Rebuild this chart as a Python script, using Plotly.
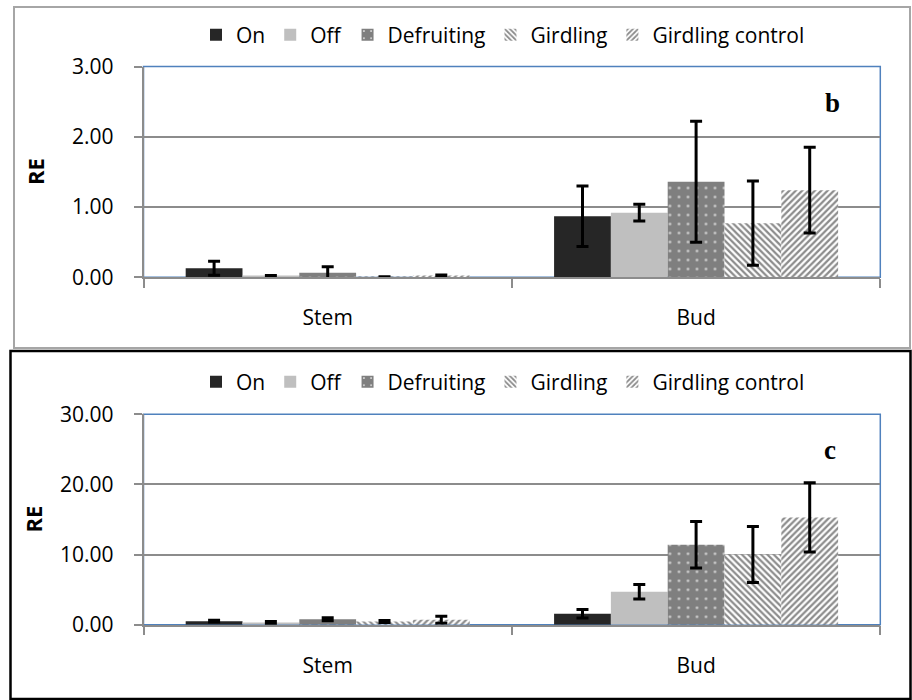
import plotly.graph_objects as go

# Tissues on the category axis
tissues = ["Stem", "Bud"]
treatments = ["On", "Off", "Defruiting", "Girdling", "Girdling control"]

# Panel b: relative expression (RE) and error values per treatment
b_on = [0.13, 0.87]
b_on_err = [0.10, 0.43]
b_off = [0.02, 0.92]
b_off_err = [0.005, 0.12]
b_defruiting = [0.065, 1.36]
b_defruiting_err = [0.085, 0.86]
b_girdling = [0.004, 0.77]
b_girdling_err = [0.003, 0.60]
b_girdling_ctrl = [0.015, 1.24]
b_girdling_ctrl_err = [0.017, 0.61]

# Panel c: relative expression (RE) and error values per treatment
c_on = [0.50, 1.57]
c_on_err = [0.12, 0.60]
c_off = [0.30, 4.70]
c_off_err = [0.15, 1.02]
c_defruiting = [0.78, 11.40]
c_defruiting_err = [0.20, 3.30]
c_girdling = [0.45, 10.00]
c_girdling_err = [0.15, 4.00]
c_girdling_ctrl = [0.70, 15.30]
c_girdling_ctrl_err = [0.50, 4.95]

W, H = 912, 700
FONT = "Open Sans"
GRID = "#8c8c8c"
BLUE = "#4f81bd"

# fill styles per treatment
styles = {
    "On": dict(color="#262626"),
    "Off": dict(color="#bfbfbf"),
    "Defruiting": dict(color="#7f7f7f",
                       pattern=dict(shape=".", fgcolor="#d9d9d9", bgcolor="#7f7f7f",
                                    size=9, solidity=0.06, fillmode="replace")),
    "Girdling": dict(color="#a6a6a6",
                     pattern=dict(shape="\\", fgcolor="#8c8c8c", bgcolor="white",
                                  size=4.5, solidity=0.5, fillmode="replace")),
    "Girdling control": dict(color="#a6a6a6",
                             pattern=dict(shape="/", fgcolor="#8c8c8c", bgcolor="white",
                                          size=4.5, solidity=0.5, fillmode="replace")),
}

panel_b = [b_on, b_off, b_defruiting, b_girdling, b_girdling_ctrl]
panel_b_err = [b_on_err, b_off_err, b_defruiting_err, b_girdling_err, b_girdling_ctrl_err]
panel_c = [c_on, c_off, c_defruiting, c_girdling, c_girdling_ctrl]
panel_c_err = [c_on_err, c_off_err, c_defruiting_err, c_girdling_err, c_girdling_ctrl_err]

fig = go.Figure()


def add_panel(values, errors, xa, ya, legend):
    for name, vals, errs in zip(treatments, values, errors):
        fig.add_trace(go.Bar(
            x=tissues, y=vals, name=name,
            xaxis=xa, yaxis=ya, legend=legend,
            marker=dict(line=dict(width=0), **styles[name]),
            error_y=dict(type="data", array=errs, visible=True,
                         color="black", thickness=3, width=6),
        ))


add_panel(panel_b, panel_b_err, "x", "y", "legend")
add_panel(panel_c, panel_c_err, "x2", "y2", "legend2")


def px_x(p):
    return p / W


def px_y(p):
    return 1 - p / H


x_dom = [px_x(143.5), px_x(880.3)]
tick_font = dict(family=FONT, size=21, color="black")

xaxis_common = dict(
    domain=x_dom, type="category", showline=True, linecolor=GRID, linewidth=1.5,
    ticks="outside", tickson="boundaries", ticklen=9, tickcolor=GRID, tickwidth=1.5,
    showgrid=False, tickfont=tick_font, ticklabelstandoff=21, fixedrange=True,
    automargin=False,
)
yaxis_common = dict(
    showline=True, linecolor=GRID, linewidth=1.5, ticks="outside", ticklen=8,
    tickcolor=GRID, tickwidth=1.5, showgrid=True, gridcolor=GRID, gridwidth=1.5,
    zeroline=False, tickformat=".2f", tickfont=tick_font, ticklabelstandoff=16,
    fixedrange=True, automargin=False,
)

legend_common = dict(
    orientation="h", xanchor="center", yanchor="middle",
    font=dict(family=FONT, size=21, color="black"),
    bgcolor="rgba(0,0,0,0)", itemclick=False, itemdoubleclick=False,
    traceorder="normal", itemsizing="constant",
)

fig.update_layout(
    width=W, height=H,
    margin=dict(l=0, r=0, t=0, b=0, autoexpand=False),
    paper_bgcolor="white", plot_bgcolor="white",
    barmode="group", bargap=0.229, bargroupgap=0,
    xaxis=dict(anchor="y", **xaxis_common),
    yaxis=dict(anchor="x", domain=[px_y(277.3), px_y(66.5)], range=[0, 3], dtick=1,
               **yaxis_common),
    xaxis2=dict(anchor="y2", **xaxis_common),
    yaxis2=dict(anchor="x2", domain=[px_y(624.7), px_y(414.3)], range=[0, 30], dtick=10,
                **yaxis_common),
    legend=dict(x=px_x(503), y=px_y(35), **legend_common),
    legend2=dict(x=px_x(503), y=px_y(382), **legend_common),
    font=dict(family=FONT, color="black"),
)

# plot-area borders and panel frames
fig.add_shape(type="rect", xref="x domain", yref="y domain", x0=0, x1=1, y0=0, y1=1,
              line=dict(color=BLUE, width=1.5), layer="below")
fig.add_shape(type="rect", xref="x2 domain", yref="y2 domain", x0=0, x1=1, y0=0, y1=1,
              line=dict(color=BLUE, width=1.5), layer="below")
fig.add_shape(type="rect", xref="paper", yref="paper",
              x0=px_x(14), x1=px_x(910), y0=px_y(348), y1=px_y(7),
              line=dict(color="#a6a6a6", width=2))
fig.add_shape(type="rect", xref="paper", yref="paper",
              x0=px_x(10.5), x1=px_x(910.5), y0=px_y(699), y1=px_y(351),
              line=dict(color="black", width=2.5))

# axis titles and panel letters
for xp, yp in [(35, 172), (32, 519.5)]:
    fig.add_annotation(text="<b>RE</b>", xref="paper", yref="paper",
                       x=px_x(xp), y=px_y(yp), xanchor="center", yanchor="middle",
                       showarrow=False, textangle=-90,
                       font=dict(family=FONT, size=22, color="black"))
for letter, xp, yp in [("b", 832, 103), ("c", 830, 450)]:
    fig.add_annotation(text=f"<b>{letter}</b>", xref="paper", yref="paper",
                       x=px_x(xp), y=px_y(yp), xanchor="center", yanchor="middle",
                       showarrow=False,
                       font=dict(family="Liberation Serif", size=27, color="black"))

fig.write_html("out.html")
